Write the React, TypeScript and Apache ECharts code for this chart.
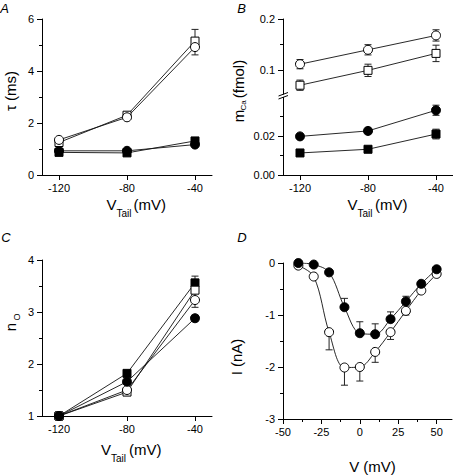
import React, { useEffect, useRef } from 'react';
import * as echarts from 'echarts';

const FONT = '"Liberation Sans", Arial, Helvetica, sans-serif';

// ---------- Panel A: tau (ms) vs V_Tail ----------
const vTail = [-120, -80, -40];
const vTailTicks = [-120, -80, -40];
const tauOpenSquare = [1.25, 2.3, 5.15];
const tauOpenSquareErrUp = [0, 0.05, 0.45];
const tauOpenCircle = [1.35, 2.22, 4.92];
const tauOpenCircleErrDown = [0, 0, 0.3];
const tauFilledSquare = [0.87, 0.85, 1.31];
const tauFilledCircle = [0.93, 0.93, 1.17];

// ---------- Panel B: m_Ca (fmol) vs V_Tail ----------
const mOpenCircle = [0.112, 0.14, 0.168];
const mOpenCircleErr = [0.009, 0.01, 0.011];
const mOpenSquare = [0.071, 0.1, 0.133];
const mOpenSquareErr = [0.01, 0.012, 0.016];
const mFilledCircle = [0.0198, 0.0226, 0.0332];
const mFilledCircleErr = [0.001, 0.0015, 0.0026];
const mFilledSquare = [0.0113, 0.0132, 0.021];
const mFilledSquareErr = [0.0008, 0.001, 0.0025];
const mUpperTicks = [0.1, 0.2];
const mUpperMinor = [0.15];
const mLowerTicks = [0, 0.02];
const mLowerMinor = [0.01, 0.03];

// ---------- Panel C: n_O vs V_Tail ----------
const nFilledSquare = [1, 1.82, 3.56];
const nFilledSquareErrUp = [0, 0, 0.13];
const nOpenSquare = [1, 1.46, 3.42];
const nOpenCircle = [1, 1.5, 3.23];
const nOpenCircleErr = [0, 0, 0.14];
const nFilledCircle = [1, 1.66, 2.88];
const nFilledCircleErr = [0, 0, 0.06];

// ---------- Panel D: I (nA) vs V (mV) ----------
const vStep = [-40, -30, -20, -10, 0, 10, 20, 30, 40, 50];
const iFilled = [0, -0.03, -0.18, -0.85, -1.35, -1.37, -1.08, -0.74, -0.4, -0.12];
const iFilledErrUp = [0, 0, 0, 0.17, 0.22, 0.2, 0.14, 0.1, 0.05, 0.03];
const iOpen = [-0.05, -0.26, -1.33, -2.01, -2.0, -1.71, -1.33, -0.92, -0.53, -0.21];
const iOpenErrDown = [0, 0, 0.34, 0.34, 0.27, 0.2, 0.14, 0.08, 0.04, 0.02];
const vStepTicks = [-50, -25, 0, 25, 50];
const vStepMinor = [-37.5, -12.5, 12.5, 37.5];

const BLACK = '#000';
const axisLineStyle = { color: BLACK, width: 1 };
const labelStyle = { color: BLACK, fontSize: 11, fontFamily: FONT };

function xAxisDef(gridIndex: number, min: number, max: number, ticks: number[] | null, show = true) {
  return {
    type: 'value', gridIndex, min, max, position: 'bottom', show,
    axisLine: { show: true, onZero: false, lineStyle: axisLineStyle },
    axisTick: { show: true, length: 5, lineStyle: axisLineStyle, customValues: ticks || undefined },
    axisLabel: { show: true, customValues: ticks || undefined, margin: 7, ...labelStyle },
    splitLine: { show: false },
  };
}

function minorAxis(dim: 'x' | 'y', gridIndex: number, min: number, max: number, ticks: number[]) {
  return {
    type: 'value', gridIndex, min, max, position: dim === 'x' ? 'bottom' : 'left',
    axisLine: { show: false, onZero: false },
    axisTick: { show: true, length: 3, lineStyle: axisLineStyle, customValues: ticks },
    axisLabel: { show: false },
    splitLine: { show: false },
  };
}

function yAxisDef(gridIndex: number, min: number, max: number, interval: number) {
  return {
    type: 'value', gridIndex, min, max, interval, position: 'left',
    axisLine: { show: true, onZero: false, lineStyle: axisLineStyle },
    axisTick: { show: true, length: 5, lineStyle: axisLineStyle },
    minorTick: { show: true, splitNumber: 2, length: 3, lineStyle: axisLineStyle },
    axisLabel: { margin: 8, ...labelStyle },
    splitLine: { show: false },
    minorSplitLine: { show: false },
  };
}

function yAxisCustom(gridIndex: number, min: number, max: number, ticks: number[], digits: number) {
  return {
    type: 'value', gridIndex, min, max, position: 'left',
    axisLine: { show: true, onZero: false, lineStyle: axisLineStyle },
    axisTick: { show: true, length: 5, lineStyle: axisLineStyle, customValues: ticks },
    axisLabel: { customValues: ticks, margin: 8, formatter: (v: number) => v.toFixed(digits), ...labelStyle },
    splitLine: { show: false },
  };
}

function marker(xs: number[], ys: number[], xi: number, yi: number, symbol: string, filled: boolean, smooth: number | boolean = false) {
  return {
    type: 'line', xAxisIndex: xi, yAxisIndex: yi,
    data: xs.map((x, i) => [x, ys[i]]),
    symbol, symbolSize: symbol === 'rect' ? 8 : 9,
    showSymbol: true, smooth,
    itemStyle: { color: filled ? BLACK : '#fff', borderColor: BLACK, borderWidth: 1, opacity: 1 },
    lineStyle: { color: '#111', width: 0.9 },
    z: 3, silent: true,
  };
}

function errBars(xs: number[], ys: number[], up: number[] | null, down: number[] | null, xi: number, yi: number) {
  const data: number[][] = [];
  xs.forEach((x, i) => {
    if (up && up[i] > 0) data.push([x, ys[i], ys[i] + up[i]]);
    if (down && down[i] > 0) data.push([x, ys[i], ys[i] - down[i]]);
  });
  return {
    type: 'custom', xAxisIndex: xi, yAxisIndex: yi, z: 2, silent: true,
    data,
    renderItem: (_p: any, api: any) => {
      const x = api.value(0);
      const a = api.coord([x, api.value(1)]);
      const b = api.coord([x, api.value(2)]);
      const st = { stroke: '#222', lineWidth: 1 };
      return {
        type: 'group',
        children: [
          { type: 'line', shape: { x1: a[0], y1: a[1], x2: b[0], y2: b[1] }, style: st },
          { type: 'line', shape: { x1: b[0] - 3.5, y1: b[1], x2: b[0] + 3.5, y2: b[1] }, style: st },
        ],
      };
    },
  };
}

function txt(text: string, x: number, y: number, size: number, opts: any = {}) {
  return {
    type: 'text', x, y, z: 100, rotation: opts.rot || 0,
    style: {
      text, fontSize: size, fontFamily: FONT, fill: BLACK,
      align: opts.align || 'center', verticalAlign: 'middle',
      fontStyle: opts.italic ? 'italic' : 'normal',
    },
  };
}

const R = Math.PI / 2;

const option: any = {
  animation: false,
  backgroundColor: '#fff',
  grid: [
    { left: 42, top: 19, width: 170, height: 156, outerBoundsMode: 'none' },
    { left: 283, top: 19, width: 170, height: 77, outerBoundsMode: 'none' },
    { left: 283, top: 97, width: 170, height: 78, outerBoundsMode: 'none' },
    { left: 42, top: 260, width: 170, height: 156, outerBoundsMode: 'none' },
    { left: 283, top: 263, width: 169, height: 156, outerBoundsMode: 'none' },
  ],
  xAxis: [
    xAxisDef(0, -130, -30, vTailTicks),
    xAxisDef(1, -130, -30, vTailTicks, false),
    xAxisDef(2, -130, -30, vTailTicks),
    xAxisDef(3, -130, -30, vTailTicks),
    xAxisDef(4, -50, 60, vStepTicks),
    minorAxis('x', 4, -50, 60, vStepMinor),
  ],
  yAxis: [
    yAxisDef(0, 0, 6, 2),
    yAxisCustom(1, 0.05, 0.2, mUpperTicks, 1),
    yAxisCustom(2, 0, 0.04, mLowerTicks, 2),
    yAxisDef(3, 1, 4, 1),
    yAxisDef(4, -3, 0, 1),
    minorAxis('y', 1, 0.05, 0.2, mUpperMinor),
    minorAxis('y', 2, 0, 0.04, mLowerMinor),
  ],
  series: [
    // A
    errBars(vTail, tauOpenSquare, tauOpenSquareErrUp, null, 0, 0),
    errBars(vTail, tauOpenCircle, null, tauOpenCircleErrDown, 0, 0),
    marker(vTail, tauFilledSquare, 0, 0, 'rect', true),
    marker(vTail, tauFilledCircle, 0, 0, 'circle', true),
    marker(vTail, tauOpenSquare, 0, 0, 'rect', false),
    marker(vTail, tauOpenCircle, 0, 0, 'circle', false),
    // B upper
    errBars(vTail, mOpenCircle, mOpenCircleErr, mOpenCircleErr, 1, 1),
    errBars(vTail, mOpenSquare, mOpenSquareErr, mOpenSquareErr, 1, 1),
    marker(vTail, mOpenCircle, 1, 1, 'circle', false),
    marker(vTail, mOpenSquare, 1, 1, 'rect', false),
    // B lower
    errBars(vTail, mFilledCircle, mFilledCircleErr, mFilledCircleErr, 2, 2),
    errBars(vTail, mFilledSquare, mFilledSquareErr, mFilledSquareErr, 2, 2),
    marker(vTail, mFilledCircle, 2, 2, 'circle', true),
    marker(vTail, mFilledSquare, 2, 2, 'rect', true),
    // C
    errBars(vTail, nFilledSquare, nFilledSquareErrUp, null, 3, 3),
    errBars(vTail, nOpenCircle, nOpenCircleErr, nOpenCircleErr, 3, 3),
    errBars(vTail, nFilledCircle, nFilledCircleErr, nFilledCircleErr, 3, 3),
    marker(vTail, nFilledSquare, 3, 3, 'rect', true),
    marker(vTail, nOpenSquare, 3, 3, 'rect', false),
    marker(vTail, nOpenCircle, 3, 3, 'circle', false),
    marker(vTail, nFilledCircle, 3, 3, 'circle', true),
    // D
    errBars(vStep, iFilled, iFilledErrUp, null, 4, 4),
    errBars(vStep, iOpen, null, iOpenErrDown, 4, 4),
    marker(vStep, iOpen, 4, 4, 'circle', false, 0.35),
    marker(vStep, iFilled, 4, 4, 'circle', true, 0.35),
  ],
  graphic: [
    // panel letters
    txt('A', 4.5, 8, 13, { italic: true }),
    txt('B', 241.5, 8, 13, { italic: true }),
    txt('C', 6, 237, 13, { italic: true }),
    txt('D', 242, 237, 13, { italic: true }),
    // A titles
    txt('\u03C4 (ms)', 10.5, 91, 15, { rot: R }),
    txt('V', 106.5, 204, 15, { align: 'left' }),
    txt('Tail', 116.5, 213, 10, { align: 'left' }),
    txt('(mV)', 133.5, 204, 15, { align: 'left' }),
    // B titles
    txt('m', 238, 116, 15, { rot: R }),
    txt('Ca', 243.3, 105.5, 8, { rot: R }),
    txt('(fmol)', 238.5, 79, 15, { rot: R }),
    txt('V', 347.5, 204, 15, { align: 'left' }),
    txt('Tail', 357.5, 213, 10, { align: 'left' }),
    txt('(mV)', 375, 204, 15, { align: 'left' }),
    // C titles
    txt('n', 10, 327, 15, { rot: R }),
    txt('O', 17, 317, 9, { rot: R }),
    txt('V', 101, 449, 15, { align: 'left' }),
    txt('Tail', 111, 458, 10, { align: 'left' }),
    txt('(mV)', 129, 449, 15, { align: 'left' }),
    // D titles
    txt('I (nA)', 236, 357, 15, { rot: R }),
    txt('V (mV)', 372.5, 466, 15),
    // axis break on B
    { type: 'rect', z: 100, shape: { x: 280, y: 94.5, width: 6, height: 2.5 }, style: { fill: '#fff' } },
    { type: 'line', z: 101, shape: { x1: 278.5, y1: 96, x2: 288, y2: 92.5 }, style: { stroke: BLACK, lineWidth: 1 } },
    { type: 'line', z: 101, shape: { x1: 278.5, y1: 99, x2: 288, y2: 95.5 }, style: { stroke: BLACK, lineWidth: 1 } },
  ],
};

export default function App() {
  const ref = useRef<HTMLDivElement>(null);
  useEffect(() => {
    if (!ref.current) return;
    const chart = echarts.init(ref.current, null, { renderer: 'svg' });
    chart.setOption(option);
    return () => chart.dispose();
  }, []);
  return (
    <div
      ref={ref}
      style={{ position: 'absolute', left: 0, top: 0, width: 453, height: 476, background: '#fff' }}
    />
  );
}
